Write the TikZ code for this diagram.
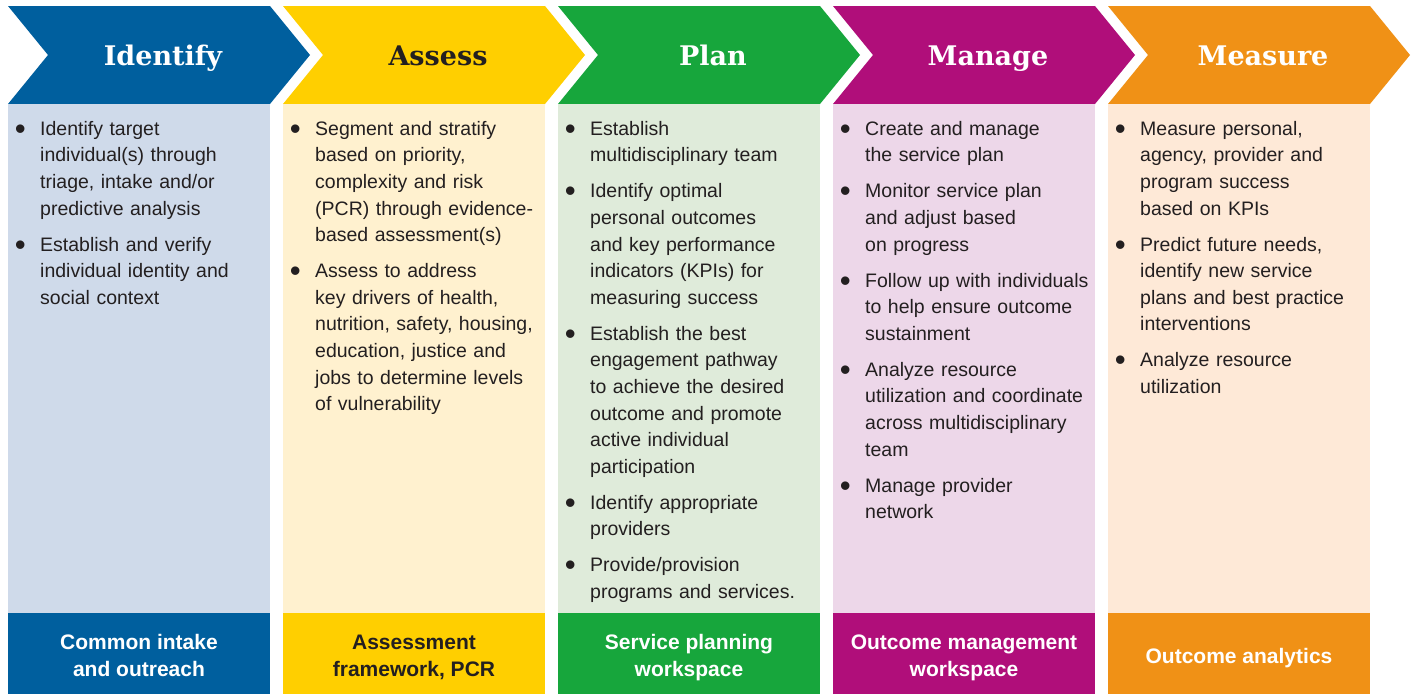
\documentclass[tikz,border=0pt]{standalone}
\usepackage{fontspec}
\usepackage{graphicx}
\setmainfont{Liberation Sans}
\newfontfamily\slab{DejaVu Serif}
\definecolor{cblue}{HTML}{005F9E}
\definecolor{cyellow}{HTML}{FFCF00}
\definecolor{cgreen}{HTML}{17A63C}
\definecolor{cmag}{HTML}{B00E7A}
\definecolor{corange}{HTML}{F09116}
\definecolor{lblue}{HTML}{CFDAEA}
\definecolor{lyellow}{HTML}{FFF1CF}
\definecolor{lgreen}{HTML}{DFEBDA}
\definecolor{lmag}{HTML}{EDD7E9}
\definecolor{lorange}{HTML}{FEE9D7}
\definecolor{txt}{HTML}{231F20}
\newcommand\bitem{\par\noindent\llap{\raisebox{-4pt}{\scalebox{1.6}{\textbullet}}\hspace{14.5pt}}}
\newcommand\firstline{\rule{0pt}{15pt}}
\newcommand\stagebg[3]{%
  \fill[#2] (#1,6) -- ++(262,0) -- ++(40,49) -- ++(-40,49) -- ++(-262,0) -- ++(40,-49) -- cycle;
  \fill[#3] (#1,104) rectangle ++(262,509);
  \fill[#2] (#1,613) rectangle ++(262,81);
}
\begin{document}
\begin{tikzpicture}[x=1pt,y=-1pt,
  head/.style={font=\slab\bfseries\fontsize{27}{30}\selectfont, anchor=base, inner sep=0},
  body/.style={anchor=north west, inner sep=0, text width=240pt, align=left,
    font=\fontsize{19.5}{26.6}\selectfont, text=txt},
  foot/.style={font=\bfseries\fontsize{21}{27}\selectfont, align=center, inner sep=0}]
\useasboundingbox (0,0) rectangle (1416,694);
\fill[white] (0,0) rectangle (1416,694);

\stagebg{8}{cblue}{lblue}
\stagebg{283}{cyellow}{lyellow}
\stagebg{558}{cgreen}{lgreen}
\stagebg{833}{cmag}{lmag}
\stagebg{1108}{corange}{lorange}

\node[head,text=white] (h1) at (163,65.5) {Identify};
\node[head,text=txt] (h2) at (438,65.5) {Assess};
\node[head,text=white] (h3) at (713,65.5) {Plan};
\node[head,text=white] (h4) at (988,65.5) {Manage};
\node[head,text=white] (h5) at (1263,65.5) {Measure};

\node[body] (b1) at (40,99) {\setlength\parskip{9.4pt}%
\bitem\firstline Identify target\\individual(s) through\\triage, intake and/or\\predictive analysis
\bitem Establish and verify\\individual identity and\\social context};

\node[body] (b2) at (315,99) {\setlength\parskip{9.4pt}%
\bitem\firstline Segment and stratify\\based on priority,\\complexity and risk\\(PCR) through evidence-\\based assessment(s)
\bitem Assess to address\\key drivers of health,\\nutrition, safety, housing,\\education, justice and\\jobs to determine levels\\of vulnerability};

\node[body] (b3) at (590,99) {\setlength\parskip{9.4pt}%
\bitem\firstline Establish\\multidisciplinary team
\bitem Identify optimal\\personal outcomes\\and key performance\\indicators (KPIs) for\\measuring success
\bitem Establish the best\\engagement pathway\\to achieve the desired\\outcome and promote\\active individual\\participation
\bitem Identify appropriate\\providers
\bitem Provide/provision\\programs and services.};

\node[body] (b4) at (865,99) {\setlength\parskip{9.4pt}%
\bitem\firstline Create and manage\\the service plan
\bitem Monitor service plan\\and adjust based\\on progress
\bitem Follow up with individuals\\to help ensure outcome\\sustainment
\bitem Analyze resource\\utilization and coordinate\\across multidisciplinary\\team
\bitem Manage provider\\network};

\node[body] (b5) at (1140,99) {\setlength\parskip{9.4pt}%
\bitem\firstline Measure personal,\\agency, provider and\\program success\\based on KPIs
\bitem Predict future needs,\\identify new service\\plans and best practice\\interventions
\bitem Analyze resource\\utilization};

\node[foot,text=white] (f1) at (139,658) {\strut Common intake\\\strut and outreach};
\node[foot,text=txt] (f2) at (414,658) {\strut Assessment\\\strut framework, PCR};
\node[foot,text=white] (f3) at (689,658) {\strut Service planning\\\strut workspace};
\node[foot,text=white] (f4) at (964,658) {\strut Outcome management\\\strut workspace};
\node[foot,text=white] (f5) at (1239,658.5) {\strut Outcome analytics};
\end{tikzpicture}
\end{document}
